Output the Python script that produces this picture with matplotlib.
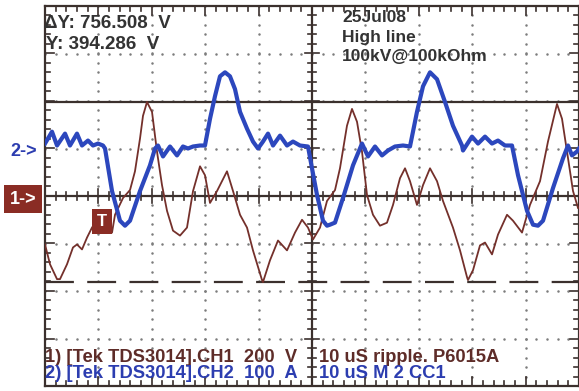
import numpy as np
import matplotlib
matplotlib.use("Agg")
import matplotlib.pyplot as plt

plt.rcParams['font.family'] = ['Liberation Sans', 'DejaVu Sans']

# CH2 current (blue), time in us, current in A
t_ch2 = [0.0, 1.31, 2.25, 3.75, 4.68, 5.99, 6.93, 8.05, 8.99, 9.93, 10.86, 11.24,
         12.55, 14.04, 14.98, 15.92, 17.79, 19.66, 20.60, 21.16, 22.10, 23.41,
         24.72, 25.84, 26.78, 27.72, 29.03, 29.96, 30.90, 31.84, 32.77, 33.71,
         34.64, 35.58, 36.52, 37.83, 38.95, 39.89, 40.82, 41.76, 42.70, 44.01,
         45.32, 46.44, 47.75, 49.25, 50.0, 50.94, 52.06, 52.81, 53.37, 54.31,
         55.81, 57.68, 59.36, 60.49, 61.80, 63.11, 64.23, 65.54, 67.04, 68.35,
         69.66, 70.79, 72.10, 73.41, 74.91, 76.40, 78.09, 78.28, 79.96, 81.09,
         82.40, 83.71, 84.83, 86.14, 87.45, 88.58, 90.26, 91.39, 92.32, 93.26,
         95.13, 97.00, 97.94, 98.69, 99.63, 100.0]
i_ch2 = [10.4, 35.4, 6.3, 31.3, 6.3, 31.3, 6.3, 16.7, 6.3, 10.4, 6.3, 0.0,
         -89.6, -152.0, -162.5, -152.0, -89.6, -35.4, 0.0, 6.3, -16.7, 4.2,
         -14.6, 4.2, 0.0, 4.2, 6.3, 6.3, 62.5, 110.4, 152.0, 160.4,
         152.0, 125.0, 77.1, 41.7, 14.6, 0.0, 14.6, 31.3, 6.3, 27.1,
         6.3, 14.6, 6.3, 4.2, -41.7, -97.9, -152.0, -162.5, -160.4, -156.0,
         -104.0, -35.4, 10.4, -16.7, 4.2, -14.6, -4.2, 4.2, 6.3, 4.2,
         77.1, 131.0, 160.4, 145.8, 97.9, 47.9, 6.3, -4.2, 25.0, 10.4,
         25.0, 10.4, 16.7, 6.3, 6.3, -56.3, -131.0, -160.4, -162.5, -152.0,
         -83.3, -20.8, 6.3, -14.6, -6.3, 0.0]

# CH1 voltage (brown), time in us, voltage in V
t_ch1 = [0.0, 0.94, 2.25, 2.81, 4.12, 5.24, 5.99, 6.93, 7.87, 8.80, 9.74, 11.61,
         12.55, 13.11, 14.61, 15.92, 16.85, 17.79, 18.35, 19.10, 20.04, 20.97,
         21.91, 22.85, 23.97, 25.28, 26.59, 27.72, 29.03, 29.96, 30.90, 32.21,
         34.08, 35.21, 36.52, 37.83, 38.95, 40.64, 40.82, 42.13, 43.63, 45.32,
         46.82, 48.13, 49.25, 50.19, 51.50, 52.81, 54.31, 55.24, 56.55, 57.49,
         58.43, 59.36, 60.30, 61.42, 62.73, 64.04, 65.17, 66.48, 67.42, 68.35,
         69.66, 70.79, 72.10, 73.41, 74.53, 76.40, 77.72, 79.03, 79.21, 80.15,
         81.46, 82.40, 83.71, 84.83, 86.52, 87.64, 89.33, 90.82, 92.70, 94.19,
         95.88, 96.82, 97.75, 98.88, 99.81]
v_ch1 = [-204, -287.5, -350, -350, -287.5, -216.7, -204, -225, -175, -133, -104, -133,
         -154, -79, -8.3, 25, 104, 241.7, 337.5, 395.8, 354, 187.5,
         45.8, -62.5, -145.8, -166.7, -133, 20.8, 125, 87.5, -29.2, 20.8,
         104, 20.8, -79, -133, -229, -354, -362.5, -271, -187.5, -229,
         -154, -100, -133, -183, -133, -20.8, 25, 116.7, 295.8, 366.7,
         312.5, 187.5, 4.2, -79, -125, -112.5, -37.5, 75, 116.7, 62.5,
         -37.5, 45.8, 116.7, 62.5, -20.8, -133, -229, -341.7, -354, -312.5,
         -208, -196, -245.8, -162.5, -79, -104, -154, -37.5, 62.5, 229,
         387.5, 325, 187.5, 20.8, -50]

# scope settings
us_per_div = 10
v_per_div = 200
a_per_div = 100
ch2_offset = 1.0          # ground marker of CH2, in divisions
cursor_y = 394.286        # V
cursor_dy = 756.508       # V

blue = '#2c47bd'
brown = '#74302b'
dark = '#3b302d'
grid_c = '#7c7c7c'

fig = plt.figure(figsize=(5.79, 3.91), dpi=100)
ax = fig.add_axes([45 / 579, 5 / 391, 534 / 579, 380 / 391])
ax.set_xlim(0, 10)
ax.set_ylim(-4, 4)
ax.set_xticks([])
ax.set_yticks([])
for s in ax.spines.values():
    s.set_color(dark)
    s.set_linewidth(1.6)

# dotted graticule, one dot every 0.2 div
xx = np.arange(0, 10.01, 0.2)
yy = np.arange(-4, 4.01, 0.2)
for i in [1, 2, 3, 4, 6, 7, 8, 9]:
    ax.plot([i] * len(yy), yy, linestyle='', marker='o', markersize=1.8,
            markeredgewidth=0, color=grid_c, zorder=1)
for j in [-3, -2, -1, 1, 2, 3]:
    ax.plot(xx, [j] * len(xx), linestyle='', marker='o', markersize=1.8,
            markeredgewidth=0, color=grid_c, zorder=1)

# centre cross
ax.axhline(0, color=dark, lw=1.6, zorder=2)
ax.axvline(5, color=dark, lw=1.6, zorder=2)

# tick marks (lengths in pixels, converted to divisions)
px_x = 53.4
px_y = 47.5
tick_kw = dict(color=dark, lw=1.2, zorder=2)
for x in xx:
    big = abs(x - round(x)) < 1e-6
    h = (7 if big else 4) / px_y
    ax.plot([x, x], [-h, h], **tick_kw)
    ax.plot([x, x], [4, 4 - h * 1.3], **tick_kw)
    ax.plot([x, x], [-4, -4 + h * 1.3], **tick_kw)
for y in yy:
    big = abs(y - round(y)) < 1e-6
    w = (7 if big else 4) / px_x
    ax.plot([5 - w, 5 + w], [y, y], **tick_kw)
    ax.plot([0, w * 1.3], [y, y], **tick_kw)
    ax.plot([10 - w * 1.3, 10], [y, y], **tick_kw)

# cursors
c1 = cursor_y / v_per_div
c2 = (cursor_y - cursor_dy) / v_per_div
ax.axhline(c1, color=dark, lw=1.6, zorder=3)
ax.axhline(c2, color=dark, lw=1.6, ls=(0, (13, 6)), zorder=3)

# traces
ax.plot(np.array(t_ch1) / us_per_div, np.array(v_ch1) / v_per_div,
        color=brown, lw=1.3, zorder=4)
ax.plot(np.array(t_ch2) / us_per_div, np.array(i_ch2) / a_per_div + ch2_offset,
        color=blue, lw=3.0, zorder=5)

# readouts
tk = dict(fontsize=13.5, fontweight='bold', va='center', zorder=6)
ax.text(-0.02, 3.64, 'ΔY: 756.508  V', color='#333333', **tk)
ax.text(0.02, 3.18, 'Y: 394.286  V', color='#333333', **tk)
tk2 = dict(fontsize=12.5, fontweight='bold', va='center', color='#333333', zorder=6)
ax.text(5.56, 3.75, '25Jul08', **tk2)
ax.text(5.56, 3.33, 'High line', **tk2)
ax.text(5.56, 2.93, '100kV@100kOhm', **tk2)

tk3 = dict(fontsize=13.2, fontweight='bold', va='center', zorder=6)
ax.text(0.0, -3.4, '1) [Tek TDS3014].CH1  200  V', color='#5e2c28', **tk3)
ax.text(5.14, -3.4, '10 uS ripple. P6015A', color='#5e2c28', **tk3)
ax.text(0.0, -3.74, '2) [Tek TDS3014].CH2  100  A', color='#2c3db0', **tk3)
ax.text(5.14, -3.74, '10 uS M 2 CC1', color='#2c3db0', **tk3)

# trigger marker
ax.text(1.07, -0.54, 'T', color='white', fontsize=12, fontweight='bold',
        ha='center', va='center', zorder=7,
        bbox=dict(boxstyle='square,pad=0.3', fc='#8a2c24', ec='none'))

# ground markers
fig.text(23 / 579, 1 - 199 / 391, '1->', color='white', fontsize=13,
         fontweight='bold', ha='center', va='center',
         bbox=dict(boxstyle='square,pad=0.3', fc='#8a2c24', ec='none'))
fig.text(24 / 579, 1 - 151 / 391, '2->', color='#2c3db0', fontsize=13,
         fontweight='bold', ha='center', va='center')

fig.savefig('out.png', dpi=100)
